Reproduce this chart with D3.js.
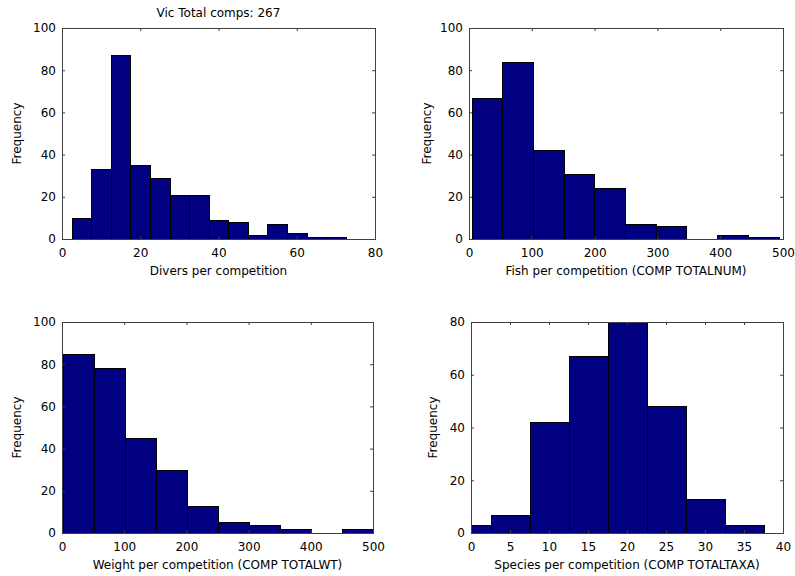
<!DOCTYPE html>
<html>
<head>
<meta charset="utf-8">
<script src="https://cdn.jsdelivr.net/npm/d3@7"></script>
<style>
  html, body { margin: 0; padding: 0; background: #fff; }
  svg { display: block; font-family: "DejaVu Sans", sans-serif; }
  .tick text { font-size: 12px; fill: #000; }
</style>
</head>
<body>
<svg id="chart" width="795" height="576"></svg>
<script>
// Histogram bin edges and counts for each panel
const diversEdges = [2.5, 7.5, 12.5, 17.5, 22.5, 27.5, 32.5, 37.5, 42.5, 47.5, 52.5, 57.5, 62.5, 67.5, 72.5];
const diversCounts = [10, 33, 87, 35, 29, 21, 21, 9, 8, 2, 7, 3, 1, 1];

const fishEdges = [4, 52.9, 101.8, 150.7, 199.6, 248.5, 297.4, 346.3, 395.2, 444.1, 493];
const fishCounts = [67, 84, 42, 31, 24, 7, 6, 0, 2, 1];

const weightEdges = [1, 50.9, 100.8, 150.7, 200.6, 250.5, 300.4, 350.3, 400.2, 450.1, 500];
const weightCounts = [85, 78, 45, 30, 13, 5, 4, 2, 0, 2];

const speciesEdges = [-2.5, 2.5, 7.5, 12.5, 17.5, 22.5, 27.5, 32.5, 37.5];
const speciesCounts = [3, 7, 42, 67, 80, 48, 13, 3];

// Axis ticks
const diversXTicks = [0, 20, 40, 60, 80];
const fishXTicks = [0, 100, 200, 300, 400, 500];
const weightXTicks = [0, 100, 200, 300, 400, 500];
const speciesXTicks = [0, 5, 10, 15, 20, 25, 30, 35, 40];
const freqTicks100 = [0, 20, 40, 60, 80, 100];
const freqTicks80 = [0, 20, 40, 60, 80];

const titleText = "Vic Total comps: 267";

const panels = [
  { edges: diversEdges, counts: diversCounts, xDomain: [0, 80], yDomain: [0, 100],
    xTicks: diversXTicks, yTicks: freqTicks100, xLabel: "Divers per competition",
    box: { left: 62, right: 375, top: 28, bottom: 239 }, yLabelX: 17, title: titleText },
  { edges: fishEdges, counts: fishCounts, xDomain: [0, 500], yDomain: [0, 100],
    xTicks: fishXTicks, yTicks: freqTicks100, xLabel: "Fish per competition (COMP TOTALNUM)",
    box: { left: 469, right: 783, top: 28, bottom: 239 }, yLabelX: 427 },
  { edges: weightEdges, counts: weightCounts, xDomain: [0, 500], yDomain: [0, 100],
    xTicks: weightXTicks, yTicks: freqTicks100, xLabel: "Weight per competition (COMP TOTALWT)",
    box: { left: 62, right: 373, top: 322, bottom: 533 }, yLabelX: 17 },
  { edges: speciesEdges, counts: speciesCounts, xDomain: [0, 40], yDomain: [0, 80],
    xTicks: speciesXTicks, yTicks: freqTicks80, xLabel: "Species per competition (COMP TOTALTAXA)",
    box: { left: 471, right: 783, top: 322, bottom: 533 }, yLabelX: 433 }
];

const svg = d3.select("#chart");
const axisColor = "#404040";

panels.forEach((p, i) => {
  const b = p.box;
  const x = d3.scaleLinear().domain(p.xDomain).range([b.left, b.right]);
  const y = d3.scaleLinear().domain(p.yDomain).range([b.bottom, b.top]);
  const g = svg.append("g");

  const clipId = "clip" + i;
  g.append("clipPath").attr("id", clipId)
    .append("rect")
    .attr("x", b.left).attr("y", b.top - 1)
    .attr("width", b.right - b.left).attr("height", b.bottom - b.top + 1);

  // bars
  const bins = p.counts.map((c, j) => ({ x0: p.edges[j], x1: p.edges[j + 1], c }));
  g.append("g").attr("clip-path", `url(#${clipId})`)
    .selectAll("rect").data(bins).join("rect")
    .attr("x", d => Math.round(x(d.x0)) + 0.5)
    .attr("width", d => Math.round(x(d.x1)) - Math.round(x(d.x0)))
    .attr("y", d => Math.round(y(d.c)) + 0.5)
    .attr("height", d => Math.max(0, Math.round(y(0)) - Math.round(y(d.c))))
    .attr("fill", "#000080")
    .attr("stroke", "#000")
    .attr("stroke-width", 1);

  // axes with inward ticks on all four sides
  const tickLen = 3;
  const bottom = g.append("g").attr("transform", `translate(0,${b.bottom})`)
    .call(d3.axisBottom(x).tickValues(p.xTicks).tickSizeInner(-tickLen).tickSizeOuter(0).tickPadding(8).tickFormat(d3.format("d")));
  const top = g.append("g").attr("transform", `translate(0,${b.top})`)
    .call(d3.axisTop(x).tickValues(p.xTicks).tickSizeInner(-tickLen).tickSizeOuter(0).tickFormat(""));
  const left = g.append("g").attr("transform", `translate(${b.left},0)`)
    .call(d3.axisLeft(y).tickValues(p.yTicks).tickSizeInner(-tickLen).tickSizeOuter(0).tickPadding(6).tickFormat(d3.format("d")));
  const right = g.append("g").attr("transform", `translate(${b.right},0)`)
    .call(d3.axisRight(y).tickValues(p.yTicks).tickSizeInner(-tickLen).tickSizeOuter(0).tickFormat(""));

  [bottom, top, left, right].forEach(a => {
    a.select(".domain").remove();
    a.selectAll(".tick line").attr("stroke", axisColor);
    a.attr("font-family", null).attr("font-size", null);
  });
  bottom.selectAll(".tick text").attr("dy", null).attr("y", 18).attr("dominant-baseline", "auto");

  // axes box
  g.append("rect")
    .attr("x", b.left + 0.5).attr("y", b.top + 0.5)
    .attr("width", b.right - b.left).attr("height", b.bottom - b.top)
    .attr("fill", "none").attr("stroke", axisColor).attr("stroke-width", 1);

  // labels
  g.append("text")
    .attr("x", (b.left + b.right) / 2).attr("y", b.bottom + 36)
    .attr("text-anchor", "middle").attr("font-size", 12).attr("fill", "#000")
    .text(p.xLabel);
  g.append("text")
    .attr("transform", `translate(${p.yLabelX + 4},${(b.top + b.bottom) / 2}) rotate(-90)`)
    .attr("text-anchor", "middle").attr("font-size", 12).attr("fill", "#000")
    .text("Frequency");
  if (p.title) {
    g.append("text")
      .attr("x", (b.left + b.right) / 2).attr("y", b.top - 11)
      .attr("text-anchor", "middle").attr("font-size", 12).attr("fill", "#000")
      .text(p.title);
  }
});
</script>
</body>
</html>
